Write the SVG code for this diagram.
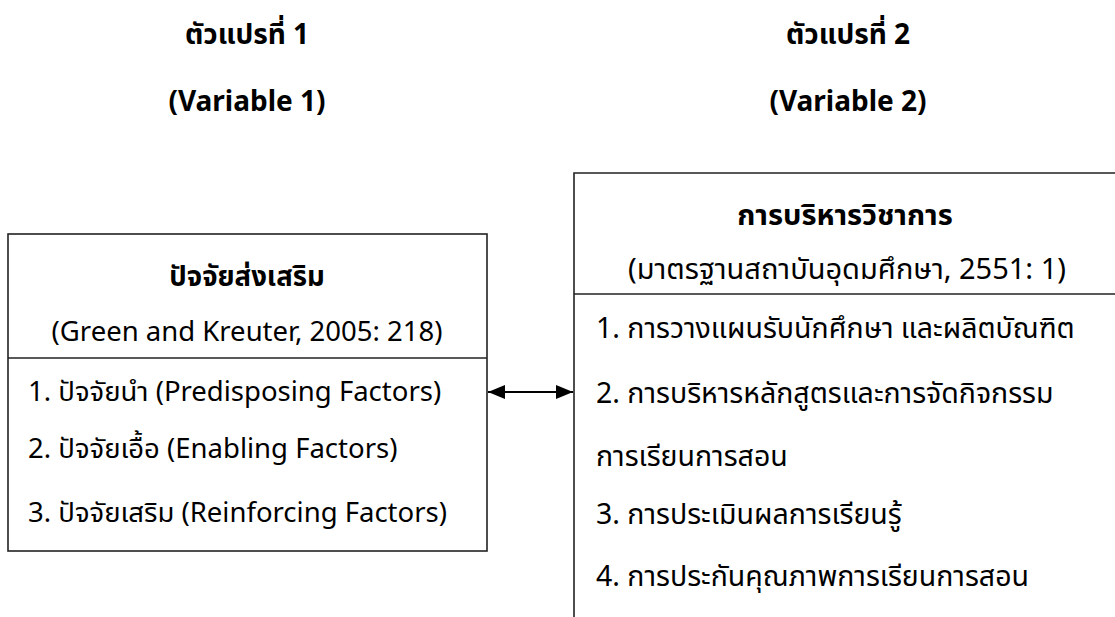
<svg xmlns="http://www.w3.org/2000/svg" width="1115" height="617" viewBox="0 0 1115 617">
<style>
text{font-family:"Noto Sans","Noto Sans Thai","DejaVu Sans",sans-serif;fill:#000;dominant-baseline:central}
.h{font-size:28px;font-weight:bold;text-anchor:middle}
.t{font-size:27.5px;font-weight:bold;text-anchor:middle}
.t2{font-size:29px;font-weight:bold;text-anchor:middle}
.c{font-size:27.5px;text-anchor:middle}
.c2{font-size:29px;text-anchor:middle}
.i{font-size:27.5px}
.j{font-size:28.5px}
.b{fill:#fff;stroke:#222;stroke-width:1.6}
.l{stroke:#222;stroke-width:1.6;fill:none}
.a{stroke:#000;stroke-width:2;fill:none}
</style>
<defs>
<marker id="ah" viewBox="0 0 17 14" refX="17" refY="7" markerWidth="17" markerHeight="14" orient="auto-start-reverse" markerUnits="userSpaceOnUse"><path d="M0,0 L17,7 L0,14 z" fill="#000"/></marker>
</defs>
<g id="header1"><text class="h" x="247" y="33">ตัวแปรที่ 1</text><text class="h" x="247" y="100">(Variable 1)</text></g>
<g id="header2"><text class="h" x="848" y="33">ตัวแปรที่ 2</text><text class="h" x="848" y="100">(Variable 2)</text></g>
<g id="left">
<rect class="b" x="8" y="234" width="479" height="317"/>
<line class="l" x1="8" y1="358" x2="487" y2="358"/>
<text class="t" x="247" y="275">ปัจจัยส่งเสริม</text>
<text class="c" x="247" y="330">(Green and Kreuter, 2005: 218)</text>
<text class="i" x="28" y="390">1. ปัจจัยนำ (Predisposing Factors)</text>
<text class="i" x="28" y="447">2. ปัจจัยเอื้อ (Enabling Factors)</text>
<text class="i" x="28" y="511">3. ปัจจัยเสริม (Reinforcing Factors)</text>
</g>
<g id="right">
<path class="l" d="M1115,173 L574,173 L574,617"/>
<line class="l" x1="574" y1="294" x2="1115" y2="294"/>
<text class="t2" x="845" y="213">การบริหารวิชาการ</text>
<text class="c2" x="847" y="267">(มาตรฐานสถาบันอุดมศึกษา, 2551: 1)</text>
<text class="j" x="596" y="327">1. การวางแผนรับนักศึกษา และผลิตบัณฑิต</text>
<text class="j" x="596" y="392">2. การบริหารหลักสูตรและการจัดกิจกรรม</text>
<text class="j" x="596" y="455">การเรียนการสอน</text>
<text class="j" x="596" y="513">3. การประเมินผลการเรียนรู้</text>
<text class="j" x="596" y="575">4. การประกันคุณภาพการเรียนการสอน</text>
</g>
<g id="connectors">
<line class="a" x1="488" y1="392" x2="573" y2="392" marker-start="url(#ah)" marker-end="url(#ah)"/>
</g>
</svg>
